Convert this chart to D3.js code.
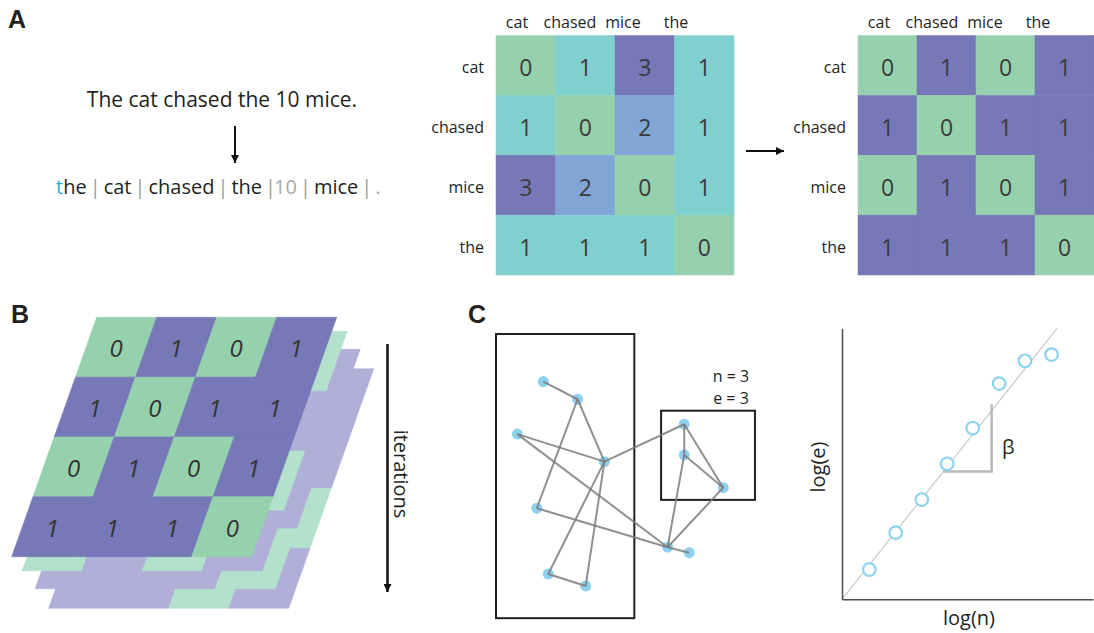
<!DOCTYPE html>
<html><head><meta charset="utf-8">
<script src="https://cdn.jsdelivr.net/npm/d3@7"></script>
<style>
html,body{margin:0;padding:0;background:#fff;}
svg{display:block;}
text{font-family:"Open Sans",sans-serif;fill:#231f20;}
.plabel{font-family:"Liberation Sans",Arial,sans-serif;font-weight:bold;font-size:25px;}
</style></head><body>
<svg id="fig" width="1094" height="633"></svg>
<script>
// ---------------- data ----------------
const sentence = "The cat chased the 10 mice.";
const tokens = ["the", "cat", "chased", "the", "10", "mice", "."];
const tokenKinds = ["first", "word", "word", "word", "dropped", "word", "dropped"];
const words = ["cat", "chased", "mice", "the"];
const countMatrix = [[0,1,3,1],[1,0,2,1],[3,2,0,1],[1,1,1,0]];
const binaryMatrix = [[0,1,0,1],[1,0,1,1],[0,1,0,1],[1,1,1,0]];
const layer2 = [[0,1,1,0],[1,0,1,1],[1,1,0,0],[0,1,0,1]];
const layer3 = [[0,1,0,1],[1,0,1,1],[0,1,0,1],[1,1,1,0]];
const layer4 = [[0,1,0,1],[1,0,1,1],[0,1,0,0],[1,1,0,1]];
const nodeX = [18.2,31.4,8.2,41.7,15.7,20.1,34.5,72.4,72.4,87.4,66.0,74.3];
const nodeY = [18.3,25.1,38.5,49.1,67.0,92.3,96.9,34.7,46.5,59.1,82.0,84.1];
const edgeList = [[0,1],[1,3],[1,4],[2,3],[2,10],[3,7],[3,5],[3,6],[5,6],[4,10],[7,8],[7,9],[8,9],[8,10],[9,10],[10,11]];
const subN = 3, subE = 3;
const logN = [1.09,2.14,3.18,4.19,5.21,6.26,7.29,8.35];
const logE = [1.10,2.46,3.68,5.00,6.32,7.96,8.80,9.03];
const fitLine = [[0,0],[8.57,10]];
const slopeTri = [[4.03,4.72],[5.96,4.72],[5.96,7.20]];

// ---------------- styles ----------------
const GREEN = "#95d1ad", TEAL = "#80d0d0", BLUE = "#81a6d6", PURPLE = "#7678b8";
const LGREEN = "#b3e1cc", LPURPLE = "#b0afd8";
const countColor = d3.scaleOrdinal().domain([0,1,2,3]).range([GREEN, TEAL, BLUE, PURPLE]);
const binColor = d3.scaleOrdinal().domain([0,1]).range([GREEN, PURPLE]);
const lightColor = d3.scaleOrdinal().domain([0,1]).range([LGREEN, LPURPLE]);

const svg = d3.select("#fig");
svg.append("rect").attr("width",1094).attr("height",633).attr("fill","#fff");
const defs = svg.append("defs");
defs.append("marker").attr("id","ah").attr("viewBox","0 0 10 10")
  .attr("refX",10).attr("refY",5).attr("markerUnits","userSpaceOnUse")
  .attr("markerWidth",10).attr("markerHeight",8).attr("orient","auto")
  .append("path").attr("d","M0,0L10,5L0,10z").attr("fill","#111");

// panel labels
svg.append("text").attr("class","plabel").attr("x",8).attr("y",28).text("A");
svg.append("text").attr("class","plabel").attr("x",11).attr("y",323).text("B");
svg.append("text").attr("class","plabel").attr("x",468).attr("y",323).text("C");

// ---------------- Panel A: text ----------------
svg.append("text").attr("x",222).attr("y",107).attr("text-anchor","middle")
  .style("font-size","21px").text(sentence);
svg.append("line").attr("x1",235).attr("x2",235).attr("y1",126).attr("y2",163)
  .attr("stroke","#111").attr("stroke-width",2).attr("marker-end","url(#ah)");

const tok = svg.append("text").attr("x",56).attr("y",194).style("font-size","20px");
tokens.forEach((t,i)=>{
  if(i>0){
    tok.append("tspan").attr("dx", 3).style("fill","#9a9a9a").text("|");
  }
  const dx = i===0 ? 0 : (tokenKinds[i]==="dropped" && t!=="." ? -2 : 3);
  if(tokenKinds[i]==="first"){
    tok.append("tspan").attr("dx",dx).style("fill","#29abe2").text(t[0]);
    tok.append("tspan").text(t.slice(1));
  } else {
    tok.append("tspan").attr("dx",dx)
      .style("fill", tokenKinds[i]==="dropped" ? "#a7a9ac" : "#231f20").text(t);
  }
});

// ---------------- Panel A: matrices ----------------
function drawMatrix(x0, x1, y0, y1, data, colorFn){
  const g = svg.append("g");
  const x = d3.scaleBand().domain(d3.range(words.length)).range([x0,x1]);
  const y = d3.scaleBand().domain(d3.range(words.length)).range([y0,y1]);
  const cells = data.flatMap((row,r)=>row.map((v,c)=>({r,c,v})));
  g.selectAll("rect").data(cells).join("rect")
    .attr("x",d=>x(d.c)).attr("y",d=>y(d.r))
    .attr("width",x.bandwidth()).attr("height",y.bandwidth())
    .attr("fill",d=>colorFn(d.v)).attr("stroke",d=>colorFn(d.v)).attr("stroke-width",0.5);
  g.selectAll("text.num").data(cells).join("text").attr("class","num")
    .attr("x",d=>x(d.c)+x.bandwidth()/2).attr("y",d=>y(d.r)+y.bandwidth()/2+11)
    .attr("text-anchor","middle").style("font-size","23px").style("fill","#3b3b3b")
    .text(d=>d.v);
  const lab = d3.scalePoint().domain(words).range([x0+21, x0+180]);
  g.selectAll("text.col").data(words).join("text").attr("class","col")
    .attr("x",d=>lab(d)).attr("y",y0-8).attr("text-anchor","middle")
    .style("font-size","16px").text(d=>d);
  g.selectAll("text.row").data(words).join("text").attr("class","row")
    .attr("x",x0-12).attr("y",(d,i)=>y(i)+y.bandwidth()/2+8).attr("text-anchor","end")
    .style("font-size","16px").text(d=>d);
}
drawMatrix(496, 734, 35.5, 275, countMatrix, countColor);
drawMatrix(858, 1094, 35.5, 275, binaryMatrix, binColor);
svg.append("line").attr("x1",746).attr("x2",784).attr("y1",151).attr("y2",151)
  .attr("stroke","#111").attr("stroke-width",2).attr("marker-end","url(#ah)");

// ---------------- Panel B: stacked layers ----------------
const bu = d3.scaleLinear().domain([0,4]).range([0,240]);
const bv = d3.scaleLinear().domain([0,4]).range([0,239.4]);
const skew = 0.355, bx0 = 96.7, by0 = 317.3;
const layers = [
  {m: layer4, off:[37,51.5], col: lightColor},
  {m: layer3, off:[23.5,32], col: lightColor},
  {m: layer2, off:[10.5,14], col: lightColor},
  {m: binaryMatrix, off:[0,0], col: binColor}
];
function proj(u,v,off){ return [bx0+off[0]+bu(u)-skew*bv(v), by0+off[1]+bv(v)]; }
const gB = svg.append("g");
layers.forEach((L)=>{
  const cells = L.m.flatMap((row,r)=>row.map((v,c)=>({r,c,v})));
  gB.append("g").selectAll("path").data(cells).join("path")
    .attr("d",d=>"M"+[proj(d.c,d.r,L.off),proj(d.c+1,d.r,L.off),proj(d.c+1,d.r+1,L.off),proj(d.c,d.r+1,L.off)].map(p=>p.join(",")).join("L")+"Z")
    .attr("fill",d=>L.col(d.v)).attr("stroke",d=>L.col(d.v)).attr("stroke-width",0.6);
});
const topCells = binaryMatrix.flatMap((row,r)=>row.map((v,c)=>({r,c,v})));
gB.append("g").selectAll("text").data(topCells).join("text")
  .attr("x",d=>proj(d.c+0.5,d.r+0.5,[0,0])[0]).attr("y",d=>proj(d.c+0.5,d.r+0.5,[0,0])[1]+10)
  .attr("text-anchor","middle").style("font-size","24px").style("font-style","italic")
  .style("fill","#333").text(d=>d.v);
svg.append("line").attr("x1",387.5).attr("x2",387.5).attr("y1",344).attr("y2",592)
  .attr("stroke","#111").attr("stroke-width",2.5).attr("marker-end","url(#ah)");
svg.append("text").attr("transform","translate(394,474) rotate(90)").attr("text-anchor","middle")
  .style("font-size","20px").text("iterations");

// ---------------- Panel C: network ----------------
const nx = d3.scaleLinear().domain([0,100]).range([496,756]);
const ny = d3.scaleLinear().domain([0,100]).range([334,594]);
const gC = svg.append("g");
gC.append("rect").attr("x",nx(0)).attr("y",ny(0)).attr("width",nx(53.2)-nx(0)).attr("height",ny(109.3)-ny(0))
  .attr("fill","none").attr("stroke","#231f20").attr("stroke-width",2);
gC.append("rect").attr("x",nx(63.5)).attr("y",ny(29.5)).attr("width",nx(99.6)-nx(63.5)).attr("height",ny(63.8)-ny(29.5))
  .attr("fill","none").attr("stroke","#231f20").attr("stroke-width",2);
gC.selectAll("circle").data(nodeX).join("circle")
  .attr("cx",d=>nx(d)).attr("cy",(d,i)=>ny(nodeY[i])).attr("r",5.5).attr("fill","#8dd0ef");
gC.selectAll("line").data(edgeList).join("line")
  .attr("x1",d=>nx(nodeX[d[0]])).attr("y1",d=>ny(nodeY[d[0]]))
  .attr("x2",d=>nx(nodeX[d[1]])).attr("y2",d=>ny(nodeY[d[1]]))
  .attr("stroke","#7d7d7d").attr("stroke-width",2).attr("stroke-opacity",0.85);
gC.append("text").attr("x",731).attr("y",382).attr("text-anchor","middle").style("font-size","16px").text("n = "+subN);
gC.append("text").attr("x",731).attr("y",404).attr("text-anchor","middle").style("font-size","16px").text("e = "+subE);

// ---------------- Panel C: scaling plot ----------------
const sx = d3.scaleLinear().domain([0,10]).range([842,1093]);
const sy = d3.scaleLinear().domain([0,10]).range([599.3,328.3]);
const gS = svg.append("g");
gS.append("line").attr("x1",sx(fitLine[0][0])).attr("y1",sy(fitLine[0][1]))
  .attr("x2",sx(fitLine[1][0])).attr("y2",sy(fitLine[1][1]))
  .attr("stroke","#c9c9c9").attr("stroke-width",1.2);
gS.append("path").attr("d",d3.line().x(d=>sx(d[0])).y(d=>sy(d[1]))(slopeTri))
  .attr("fill","none").attr("stroke","#b9b9b9").attr("stroke-width",2.5);
const axL = gS.append("g").attr("transform",`translate(${sx(0)},0)`)
  .call(d3.axisLeft(sy).tickValues([]).tickSizeOuter(0));
const axB = gS.append("g").attr("transform",`translate(0,${sy(0)})`)
  .call(d3.axisBottom(sx).tickValues([]).tickSizeOuter(0));
gS.selectAll(".domain").attr("stroke","#4d4d4d").attr("stroke-width",1.5);
gS.selectAll("circle").data(logN).join("circle")
  .attr("cx",d=>sx(d)).attr("cy",(d,i)=>sy(logE[i])).attr("r",6.3)
  .attr("fill","#fff").attr("stroke","#8dd3f0").attr("stroke-width",2.2);
gS.append("text").attr("x",1002).attr("y",454).style("font-size","20px").text("β");
gS.append("text").attr("x",969).attr("y",625).attr("text-anchor","middle").style("font-size","20px").text("log(n)");
gS.append("text").attr("transform","translate(825,467) rotate(-90)").attr("text-anchor","middle")
  .style("font-size","20px").text("log(e)");
</script>
</body></html>
